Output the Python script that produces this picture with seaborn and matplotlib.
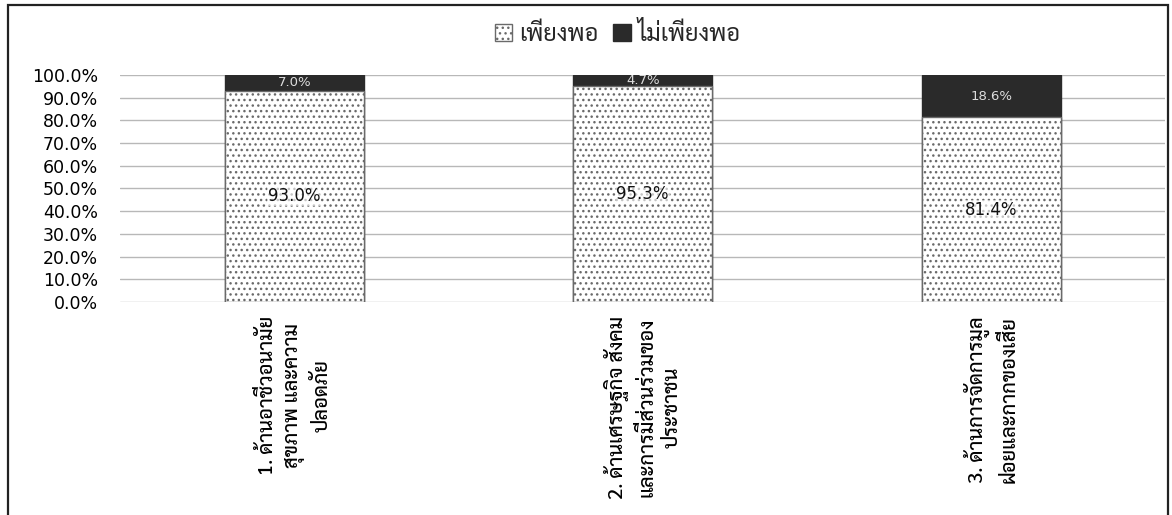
import matplotlib
matplotlib.use('Agg')
import matplotlib.pyplot as plt
from matplotlib.patches import Patch, Rectangle
from matplotlib.ticker import FuncFormatter
import seaborn as sns
import pandas as pd

# chart values
categories = ['1. ด้านอาชีวอนามัย\nสุขภาพ และความ\nปลอดภัย',
              '2. ด้านเศรษฐกิจ สังคม\nและการมีส่วนร่วมของ\nประชาชน',
              '3. ด้านการจัดการมูล\nฝอยและกากของเสีย']
enough = [93.0, 95.3, 81.4]
not_enough = [7.0, 4.7, 18.6]
series_names = ['เพียงพอ', 'ไม่เพียงพอ']

df = pd.DataFrame({'category': categories, 'enough': enough, 'not_enough': not_enough})
df['total'] = df['enough'] + df['not_enough']

sns.set_style('white')
thai = ['Sarabun', 'Noto Sans Thai', 'DejaVu Sans']
plt.rcParams['font.family'] = ['DejaVu Sans', 'Noto Sans Thai']
plt.rcParams['hatch.linewidth'] = 1.0

fig = plt.figure(figsize=(11.72, 5.15), dpi=100)
ax = fig.add_axes([0.1024, 0.4136, 0.892, 0.4408])

dark = '#2a2a2a'
sns.barplot(data=df, x='category', y='total', color=dark, width=0.4,
            saturation=1, ax=ax, zorder=2)
sns.barplot(data=df, x='category', y='enough', color='white', width=0.4,
            saturation=1, ax=ax, zorder=3)

n = len(df)
for p in ax.patches[:n]:
    p.set_edgecolor(dark)
    p.set_linewidth(1)
for p in ax.patches[n:]:
    p.set_facecolor('white')
    p.set_edgecolor('#6a6a6a')
    p.set_hatch('...')
    p.set_linewidth(1.0)

# value labels
for i, row in df.iterrows():
    ax.text(i, row['enough'] / 2, f"{row['enough']:.1f}%", ha='center', va='center',
            fontsize=12, color='#111111', zorder=5,
            bbox=dict(facecolor='white', edgecolor='none', pad=0.5, alpha=0.6))
    ax.text(i, row['enough'] + row['not_enough'] / 2, f"{row['not_enough']:.1f}%",
            ha='center', va='center', fontsize=9.5, color='#dddddd', zorder=5)

ax.set_ylim(0, 100)
ax.set_xlim(-0.5, n - 0.5)
ax.set_yticks(range(0, 101, 10))
ax.yaxis.set_major_formatter(FuncFormatter(lambda v, _: f'{v:.1f}%'))
ax.grid(axis='y', color='#b8b8b8', linewidth=1)
ax.set_axisbelow(True)
for s in ax.spines.values():
    s.set_visible(False)
ax.tick_params(axis='both', length=0)
ax.tick_params(axis='y', labelsize=12.5, pad=16, labelcolor='#000000')
ax.set_xlabel('')
ax.set_ylabel('')
for lab in ax.get_xticklabels():
    lab.set_rotation(90)
    lab.set_fontfamily(thai)
    lab.set_fontsize(14.5)
    lab.set_fontweight('medium')
    lab.set_multialignment('center')
    lab.set_linespacing(1.5)
    lab.set_color('#000000')
ax.tick_params(axis='x', pad=10)

handles = [Patch(facecolor='white', edgecolor='#6a6a6a', hatch='...', label=series_names[0]),
           Patch(facecolor=dark, edgecolor=dark, label=series_names[1])]
fig.legend(handles=handles, loc='center', bbox_to_anchor=(0.527, 0.934), ncol=2,
           frameon=False, prop={'family': thai, 'size': 17},
           handlelength=0.75, handleheight=0.75, handletextpad=0.3, columnspacing=0.6)

# outer frame
fig.patches.append(Rectangle((8 / 1172, -0.05), 1160 / 1172, 1.04, transform=fig.transFigure,
                             fill=False, edgecolor='#222222', linewidth=1.6))

fig.savefig('out.png', dpi=100)
